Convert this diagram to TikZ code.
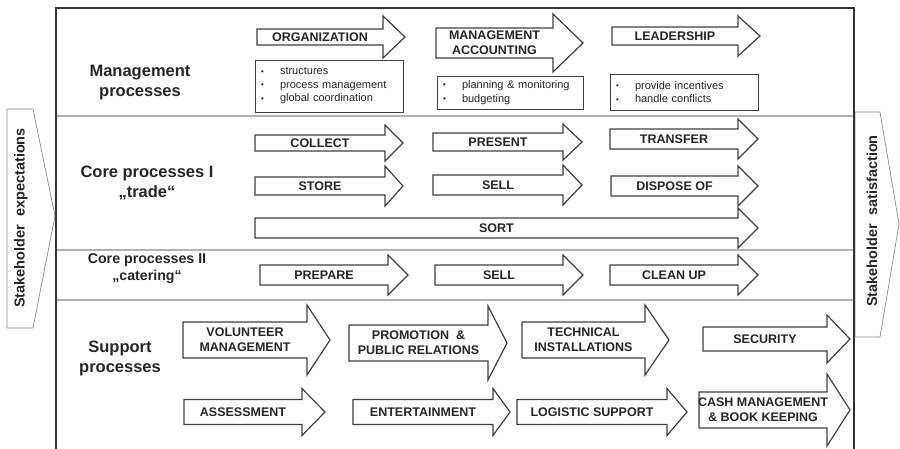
\documentclass[tikz,border=0pt]{standalone}
\usepackage{fontspec}
\setmainfont{Liberation Sans}
\begin{document}
\begin{tikzpicture}[x=1pt,y=-1pt,
    arr/.style={draw=black!75,line width=1.2pt,fill=white,line join=miter},
    arrtext/.style={font=\bfseries\fontsize{12.5}{15}\selectfont,align=center,text=black!85,inner sep=0pt},
    bulletbox/.style={draw=black!75,line width=1pt,fill=white,inner xsep=6pt,inner ysep=0pt,
      align=left,font=\fontsize{11}{13.5}\selectfont,text=black!85},
    seclabel/.style={font=\bfseries\fontsize{16.5}{20}\selectfont,align=center,text=black!85,inner sep=0pt},
    sideshape/.style={draw=black!45,line width=0.7pt,fill=white},
    sidetext/.style={font=\bfseries\fontsize{14.5}{16}\selectfont,text=black!85,rotate=90,inner sep=0pt},
    divider/.style={draw=black!30,line width=1.2pt},
    frame/.style={draw=black!80,line width=1.8pt}
  ]
  \useasboundingbox (0,0) rectangle (900,448);

  \def\bul{\makebox[19pt][l]{\fontsize{8}{8}\selectfont\raisebox{0.6pt}{•}}}
  % block arrow: name, left, head start, tip, centre y, shaft half, head half, text
  \def\procarrow#1#2#3#4#5#6#7#8{%
    \draw[arr] (#2,#5-#6) -- (#3,#5-#6) -- (#3,#5-#7) -- (#4,#5)
      -- (#3,#5+#7) -- (#3,#5+#6) -- (#2,#5+#6) -- cycle;
    \node[arrtext] (#1) at ({(#2+#3)/2},#5) {#8};}

  % Side arrows
  \draw[sideshape] (7,109) -- (33,109) -- (55,216) -- (33,328) -- (7,328) -- cycle;
  \node[sidetext] (expect) at (21,218) {Stakeholder\ \ expectations};
  \draw[sideshape] (855,112) -- (880,112) -- (899,224) -- (880,337) -- (855,337) -- cycle;
  \node[sidetext] (satisf) at (872,221) {Stakeholder\ \ satisfaction};

  % Frame and dividers
  \draw[divider] (56,116) -- (854,116);
  \draw[divider] (56,250) -- (854,250);
  \draw[divider] (56,300) -- (854,300);
  \draw[frame] (56,450) -- (56,8) -- (854,8) -- (854,450);

  % Section labels
  \node[seclabel] (mgmt) at (140,83) {Management\\processes};
  \node[seclabel] (coreone) at (147,183) {Core processes I\\„trade“};
  \node[seclabel,font=\bfseries\fontsize{14.2}{17}\selectfont] (coretwo) at (147,268.5) {Core processes II\\„catering“};
  \node[seclabel] (support) at (120,358.5) {Support\\processes};

  % Management processes
  \procarrow{org}{257}{383}{405}{37}{8}{21}{ORGANIZATION}
  \procarrow{macc}{436}{553}{583}{43}{15}{29}{MANAGEMENT\\ACCOUNTING}
  \procarrow{lead}{612}{738}{760}{36}{9}{20}{LEADERSHIP}
  \node[bulletbox,minimum width=148pt,minimum height=52pt,text width=136pt] (orgbox) at (329,86)
    {\bul structures\\\bul process management\\\bul global coordination};
  \node[bulletbox,minimum width=146pt,minimum height=33pt,text width=134pt] (maccbox) at (510,92.5)
    {\bul planning \& monitoring\\\bul budgeting};
  \node[bulletbox,minimum width=148pt,minimum height=36pt,text width=136pt] (leadbox) at (684,92)
    {\bul provide incentives\\\bul handle conflicts};

  % Core processes I
  \procarrow{collect}{255}{385}{403}{143}{8}{18}{COLLECT}
  \procarrow{store}{255}{385}{403}{186}{9}{20}{STORE}
  \procarrow{sort}{255}{738}{758}{228}{10}{20}{SORT}
  \procarrow{present}{433}{563}{582}{142}{9}{18}{PRESENT}
  \procarrow{sellA}{433}{563}{582}{185}{10}{20}{SELL}
  \procarrow{transfer}{610}{738}{758}{139}{10}{20}{TRANSFER}
  \procarrow{dispose}{611}{738}{758}{186}{10}{20}{DISPOSE OF}

  % Core processes II
  \procarrow{prepare}{260}{388}{408}{275}{10}{20}{PREPARE}
  \procarrow{sellB}{435}{563}{583}{275}{10}{20}{SELL}
  \procarrow{cleanup}{610}{738}{758}{275}{10}{20}{CLEAN UP}

  % Support processes
  \procarrow{volunteer}{183}{307}{330}{340}{18}{35}{VOLUNTEER\\MANAGEMENT}
  \procarrow{assess}{184}{302}{325}{412}{12.5}{23.5}{ASSESSMENT}
  \procarrow{promo}{349}{488}{507}{343}{18}{37}{PROMOTION~~\&\\PUBLIC RELATIONS}
  \procarrow{entertain}{353}{493}{510}{412}{12.5}{23.5}{ENTERTAINMENT}
  \procarrow{technical}{522}{645}{669}{340}{18}{35}{TECHNICAL\\INSTALLATIONS}
  \procarrow{logistic}{517}{667}{687}{412}{12.5}{23.5}{LOGISTIC SUPPORT}
  \procarrow{security}{703}{827}{850}{339}{12}{24}{SECURITY}
  \procarrow{cash}{699}{827}{850}{410}{18}{36}{CASH MANAGEMENT\\\& BOOK KEEPING}
\end{tikzpicture}
\end{document}
